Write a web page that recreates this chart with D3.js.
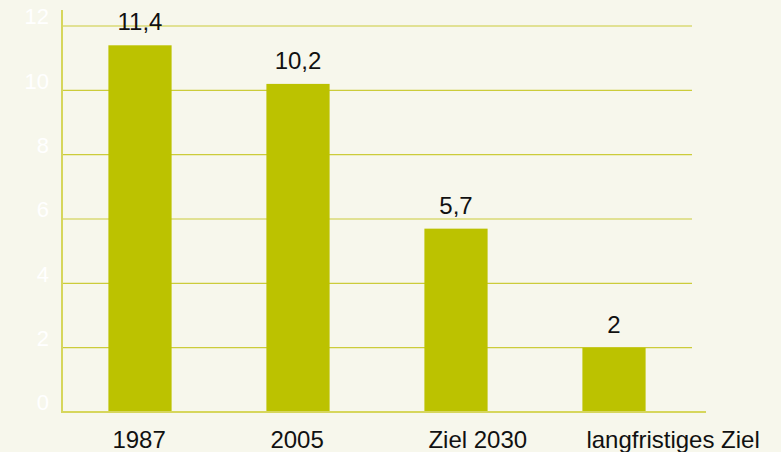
<!DOCTYPE html>
<html>
<head>
<meta charset="utf-8">
<script src="https://cdn.jsdelivr.net/npm/d3@7"></script>
<style>
  html, body { margin: 0; padding: 0; background: #f7f7ec; }
  svg { display: block; font-family: "Liberation Sans", Arial, sans-serif; }
</style>
</head>
<body>
<div id="chart"></div>
<script>
// Chart data
const categories = ['1987', '2005', 'Ziel 2030', 'langfristiges Ziel'];
const values = [11.4, 10.2, 5.7, 2];
const yTicks = [0, 2, 4, 6, 8, 10, 12];

const width = 781;
const height = 452;

const svg = d3.select('#chart')
    .append('svg')
    .attr('width', width)
    .attr('height', height);

svg.append('rect')
    .attr('width', width)
    .attr('height', height)
    .attr('fill', '#f7f7ec');

// Scales
const xScale = d3.scaleBand()
    .domain(categories)
    .range([61, 693])
    .paddingInner(0.6)
    .paddingOuter(0.3);

const yScale = d3.scaleLinear()
    .domain([0, 12])
    .range([412, 26]);

const fmt = v => String(v).replace('.', ',');

// Gridlines
svg.append('g')
    .selectAll('line')
    .data(yTicks.filter(d => d > 0))
    .enter()
    .append('line')
    .attr('x1', 62)
    .attr('x2', 692)
    .attr('y1', d => yScale(d))
    .attr('y2', d => yScale(d))
    .attr('stroke', '#cccc3a')
    .attr('stroke-width', 1.2);

// Y axis (white labels)
const yAxis = svg.append('g')
    .attr('transform', 'translate(62,0)')
    .call(d3.axisLeft(yScale).tickValues(yTicks).tickSize(0).tickPadding(13));
yAxis.select('.domain').remove();
yAxis.selectAll('text')
    .attr('fill', '#ffffff')
    .attr('dy', '-0.1em')
    .style('font-size', '22px')
    .style('font-family', '"Liberation Sans", Arial, sans-serif');

// Bars
svg.append('g')
    .selectAll('rect')
    .data(values)
    .enter()
    .append('rect')
    .attr('x', (d, i) => xScale(categories[i]))
    .attr('y', d => yScale(d))
    .attr('width', xScale.bandwidth())
    .attr('height', d => yScale(0) - yScale(d))
    .attr('fill', '#bcc200');

// Value labels
svg.append('g')
    .selectAll('text')
    .data(values)
    .enter()
    .append('text')
    .attr('x', (d, i) => xScale(categories[i]) + xScale.bandwidth() / 2)
    .attr('y', d => yScale(d) - 15)
    .attr('text-anchor', 'middle')
    .attr('fill', '#111')
    .style('font-size', '24px')
    .text(d => fmt(d));

// Axis lines
svg.append('line')
    .attr('x1', 62).attr('x2', 62)
    .attr('y1', 10).attr('y2', 413)
    .attr('stroke', '#d6d65c')
    .attr('stroke-width', 2);

svg.append('line')
    .attr('x1', 61).attr('x2', 706)
    .attr('y1', yScale(0)).attr('y2', yScale(0))
    .attr('stroke', '#d6d65c')
    .attr('stroke-width', 2);

// Category labels (start near bar left edge)
svg.append('g')
    .selectAll('text')
    .data(categories)
    .enter()
    .append('text')
    .attr('x', d => xScale(d) + 4)
    .attr('y', 448)
    .attr('fill', '#111')
    .style('font-size', '24px')
    .text(d => d);
</script>
</body>
</html>
